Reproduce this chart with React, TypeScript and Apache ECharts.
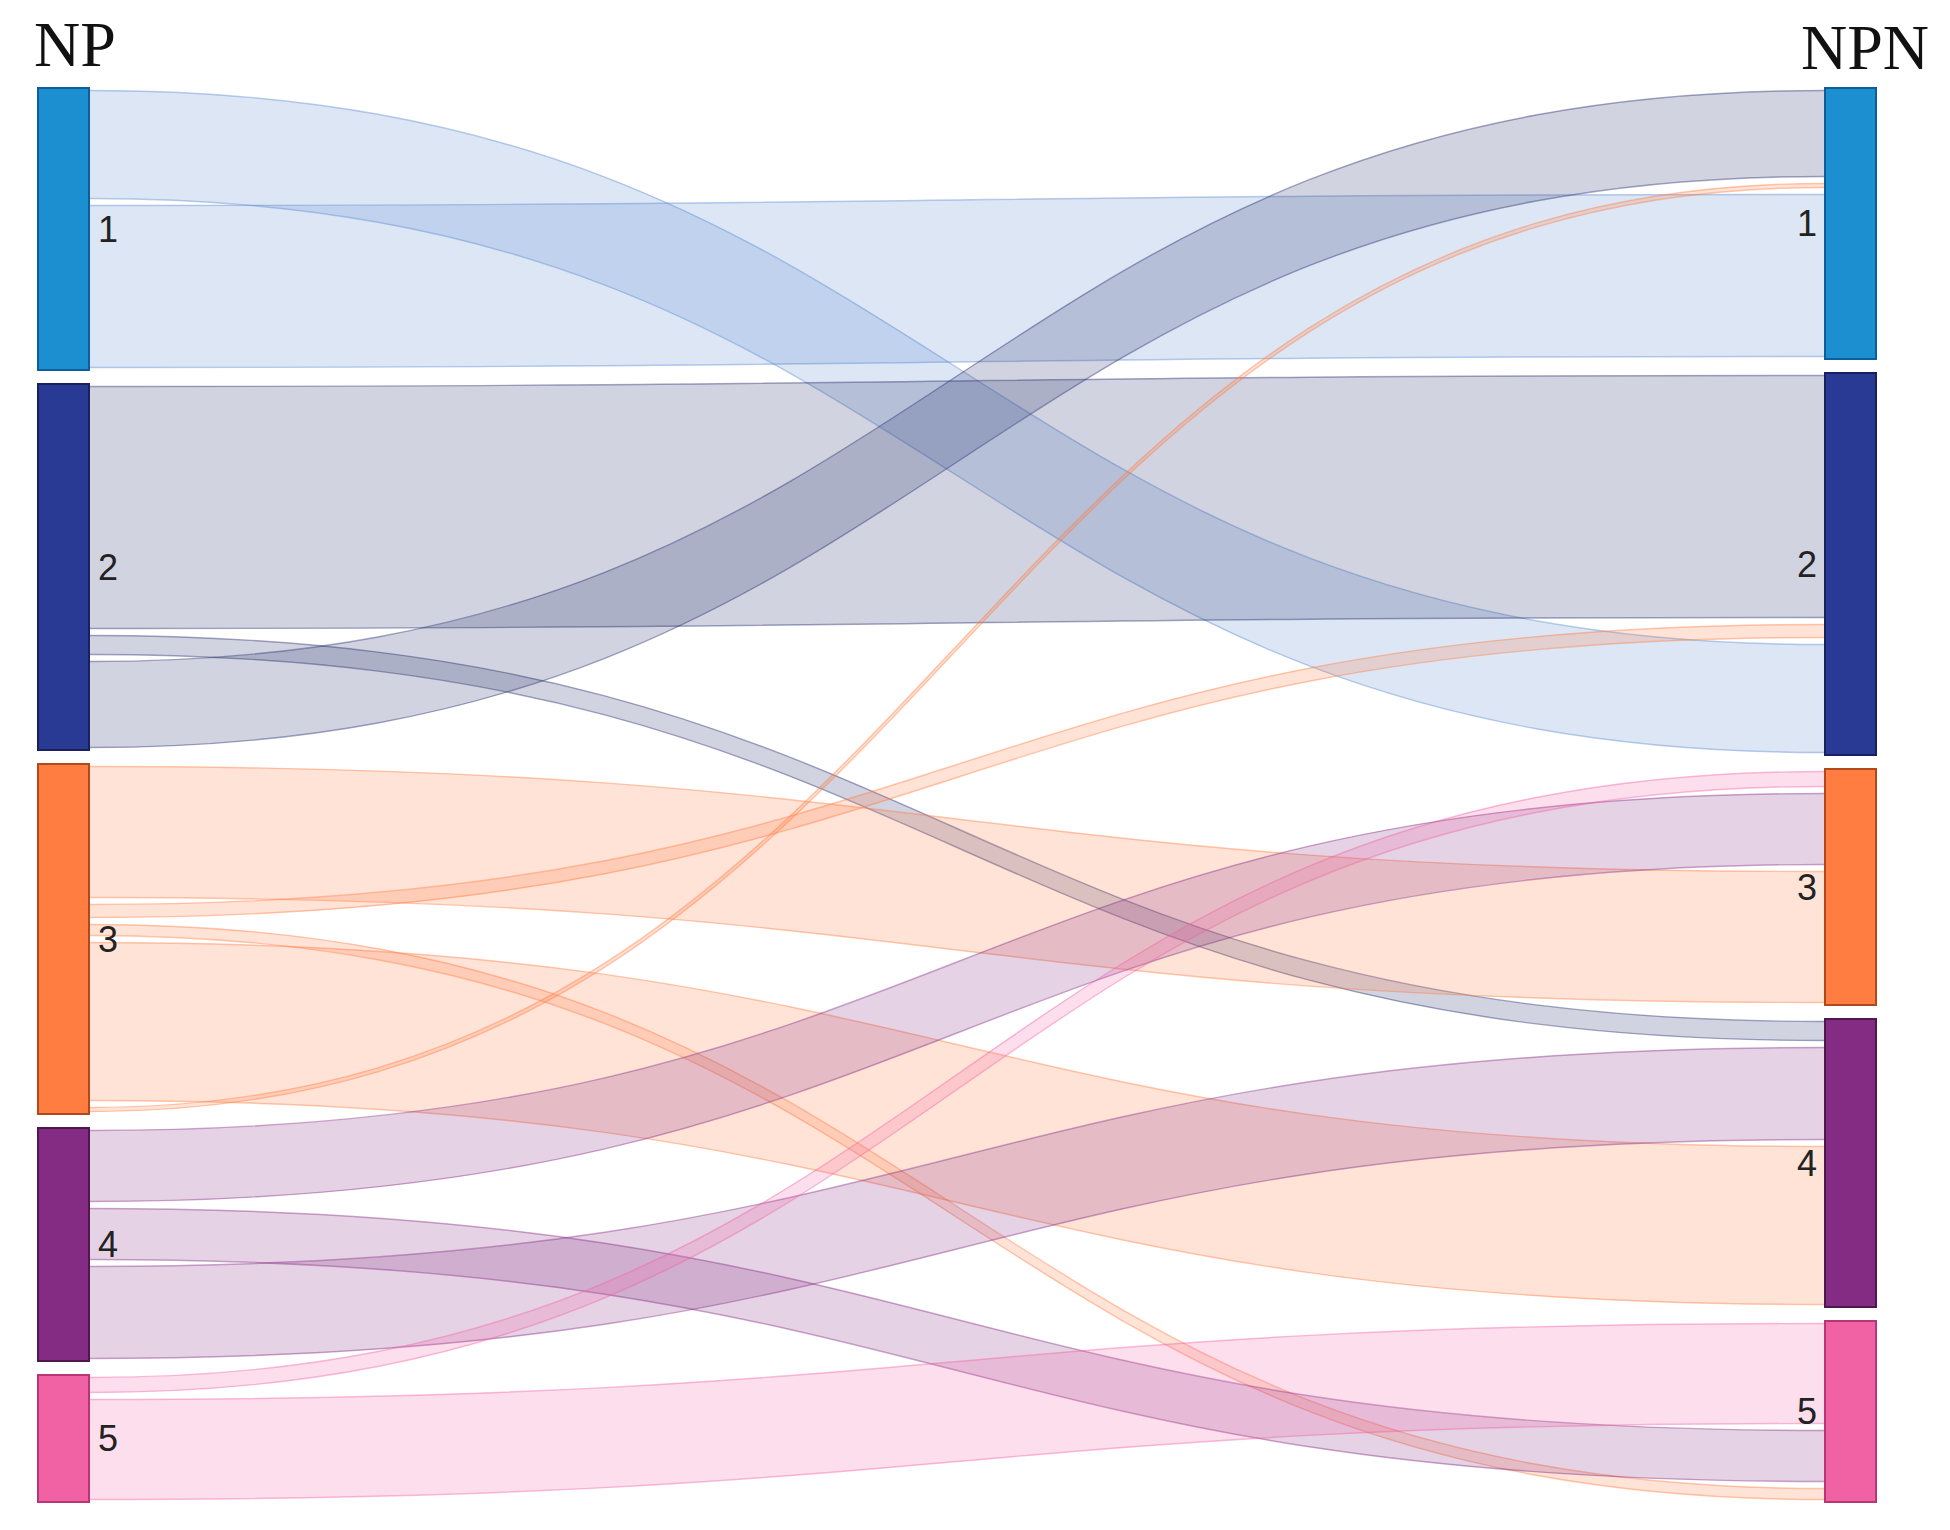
import React, { useEffect, useRef } from "react";
import * as echarts from "echarts";

// ---- data ----
const leftTitle = "NP";
const rightTitle = "NPN";
const leftNodes = ["1", "2", "3", "4", "5"];
const rightNodes = ["1", "2", "3", "4", "5"];

// flows, listed in the top-to-bottom order in which they leave each NP group
const linkSources = [0, 0, 1, 1, 1, 2, 2, 2, 2, 2, 3, 3, 3, 4, 4];
const linkTargets = [1, 0, 1, 3, 0, 2, 1, 4, 3, 0, 2, 4, 3, 2, 4];
const linkValues = [115, 169, 249, 26, 93, 138, 20, 18, 165, 11, 78, 58, 99, 22, 107];
// order (top to bottom) of incoming NP groups at each NPN group
const targetStackOrder = [
  [1, 2, 0],
  [1, 2, 0],
  [4, 3, 2],
  [1, 3, 2],
  [4, 3, 2],
];

// ---- styles ----
const nodeColors = ["#1B8FD0", "#283A94", "#FF7D40", "#842C84", "#F062A4"];
const nodeBorders = ["#0E5E9C", "#17215E", "#B04A1C", "#4E184F", "#B83676"];
const linkColors = ["#5A8AD0", "#262E6E", "#FF7D40", "#842C84", "#F062A4"];
const NODE_W = 53;
const NODE_GAP = 12;
const LINK_INSET = 3.5;

function rgba(hex: string, a: number) {
  const n = parseInt(hex.slice(1), 16);
  return `rgba(${(n >> 16) & 255},${(n >> 8) & 255},${n & 255},${a})`;
}

function buildLayout() {
  const leftTotals = leftNodes.map((_, i) =>
    linkValues.reduce((s, v, k) => (linkSources[k] === i ? s + v : s), 0)
  );
  const rightTotals = rightNodes.map((_, i) =>
    linkValues.reduce((s, v, k) => (linkTargets[k] === i ? s + v : s), 0)
  );
  const leftY0: number[] = [];
  let y = 0;
  leftTotals.forEach((t, i) => {
    leftY0[i] = y;
    y += t + NODE_GAP;
  });
  const rightY0: number[] = [];
  y = 0;
  rightTotals.forEach((t, i) => {
    rightY0[i] = y;
    y += t + NODE_GAP;
  });
  const sumL = leftTotals.reduce((a, b) => a + b, 0);
  const sumR = rightTotals.reduce((a, b) => a + b, 0);
  const yMax = Math.max(sumL, sumR) + NODE_GAP * (leftNodes.length - 1);

  const srcStart: number[] = [];
  const srcCursor = leftY0.slice();
  linkValues.forEach((v, k) => {
    const s = linkSources[k];
    srcStart[k] = srcCursor[s];
    srcCursor[s] += v;
  });
  const tgtStart: number[] = [];
  targetStackOrder.forEach((order, t) => {
    let c = rightY0[t];
    order.forEach((s) => {
      const k = linkValues.findIndex((_, j) => linkSources[j] === s && linkTargets[j] === t);
      if (k >= 0) {
        tgtStart[k] = c;
        c += linkValues[k];
      }
    });
  });

  const linkData = linkValues.map((v, k) => [
    0,
    srcStart[k],
    srcStart[k] + v,
    tgtStart[k],
    tgtStart[k] + v,
    linkSources[k],
  ]);
  const nodeData = [
    ...leftNodes.map((_, i) => [0, leftY0[i], leftY0[i] + leftTotals[i], i]),
    ...rightNodes.map((_, i) => [1, rightY0[i], rightY0[i] + rightTotals[i], i]),
  ];
  return { yMax, linkData, nodeData };
}

export default function App() {
  const ref = useRef<HTMLDivElement>(null);
  useEffect(() => {
    document.body.style.margin = "0";
    if (!ref.current) return;
    const chart = echarts.init(ref.current, undefined, { renderer: "svg" });
    const { yMax, linkData, nodeData } = buildLayout();
    const labelFont = 'Arial, "Liberation Sans", sans-serif';
    const titleFont = '"Times New Roman", "Liberation Serif", serif';

    chart.setOption({
      animation: false,
      backgroundColor: "#ffffff",
      grid: { left: 37, right: 73, top: 87, bottom: 27, containLabel: false },
      xAxis: { type: "value", min: 0, max: 1, show: false },
      yAxis: { type: "value", min: 0, max: yMax, inverse: true, show: false },
      graphic: [
        {
          type: "text",
          x: 34,
          y: 44,
          style: {
            text: leftTitle,
            fontSize: 64,
            fontFamily: titleFont,
            fill: "#111",
            align: "left",
            verticalAlign: "middle",
          },
        },
        {
          type: "text",
          x: 1929,
          y: 47,
          style: {
            text: rightTitle,
            fontSize: 64,
            fontFamily: titleFont,
            fill: "#111",
            align: "right",
            verticalAlign: "middle",
          },
        },
      ],
      series: [
        {
          type: "custom",
          name: "links",
          silent: true,
          z: 1,
          encode: { x: 0, y: 1 },
          data: linkData,
          renderItem: (params: any, api: any) => {
            const sy0 = api.value(1);
            const sy1 = api.value(2);
            const ty0 = api.value(3);
            const ty1 = api.value(4);
            const s = api.value(5);
            const a0 = api.coord([0, sy0]);
            const a1 = api.coord([0, sy1]);
            const b0 = api.coord([1, ty0]);
            const b1 = api.coord([1, ty1]);
            const x0 = a0[0] + NODE_W;
            const x1 = b0[0] - NODE_W;
            let s0 = a0[1] + LINK_INSET;
            let s1 = a1[1] - LINK_INSET;
            if (s1 - s0 < 3) {
              const m = (a0[1] + a1[1]) / 2;
              s0 = m - 1.5;
              s1 = m + 1.5;
            }
            let t0 = b0[1] + LINK_INSET;
            let t1 = b1[1] - LINK_INSET;
            if (t1 - t0 < 3) {
              const m = (b0[1] + b1[1]) / 2;
              t0 = m - 1.5;
              t1 = m + 1.5;
            }
            const xm = (x0 + x1) / 2;
            const area = `M${x0},${s0}C${xm},${s0} ${xm},${t0} ${x1},${t0}L${x1},${t1}C${xm},${t1} ${xm},${s1} ${x0},${s1}Z`;
            const edges = `M${x0},${s0}C${xm},${s0} ${xm},${t0} ${x1},${t0}M${x1},${t1}C${xm},${t1} ${xm},${s1} ${x0},${s1}`;
            const c = linkColors[s];
            return {
              type: "group",
              children: [
                { type: "path", shape: { pathData: area }, style: { fill: rgba(c, 0.21), stroke: null } },
                {
                  type: "path",
                  shape: { pathData: edges },
                  style: { fill: null, stroke: rgba(c, 0.42), lineWidth: 1.4 },
                },
              ],
            };
          },
        },
        {
          type: "custom",
          name: "nodes",
          silent: true,
          z: 2,
          encode: { x: 0, y: 1 },
          data: nodeData,
          renderItem: (params: any, api: any) => {
            const col = api.value(0);
            const y0 = api.value(1);
            const y1 = api.value(2);
            const i = api.value(3);
            const p0 = api.coord([col, y0]);
            const p1 = api.coord([col, y1]);
            const x = col === 0 ? p0[0] : p0[0] - NODE_W;
            const label = col === 0 ? leftNodes[i] : rightNodes[i];
            return {
              type: "group",
              children: [
                {
                  type: "rect",
                  shape: { x: x + 1, y: p0[1] + 1, width: NODE_W - 2, height: p1[1] - p0[1] - 2 },
                  style: { fill: nodeColors[i], stroke: nodeBorders[i], lineWidth: 2 },
                },
                {
                  type: "text",
                  x: col === 0 ? x + NODE_W + 8 : x - 7,
                  y: (p0[1] + p1[1]) / 2,
                  style: {
                    text: label,
                    fontSize: 36,
                    fontFamily: labelFont,
                    fill: "#222",
                    align: col === 0 ? "left" : "right",
                    verticalAlign: "middle",
                  },
                },
              ],
            };
          },
        },
      ],
    });
    return () => chart.dispose();
  }, []);
  return <div ref={ref} style={{ width: 1950, height: 1530 }} />;
}
